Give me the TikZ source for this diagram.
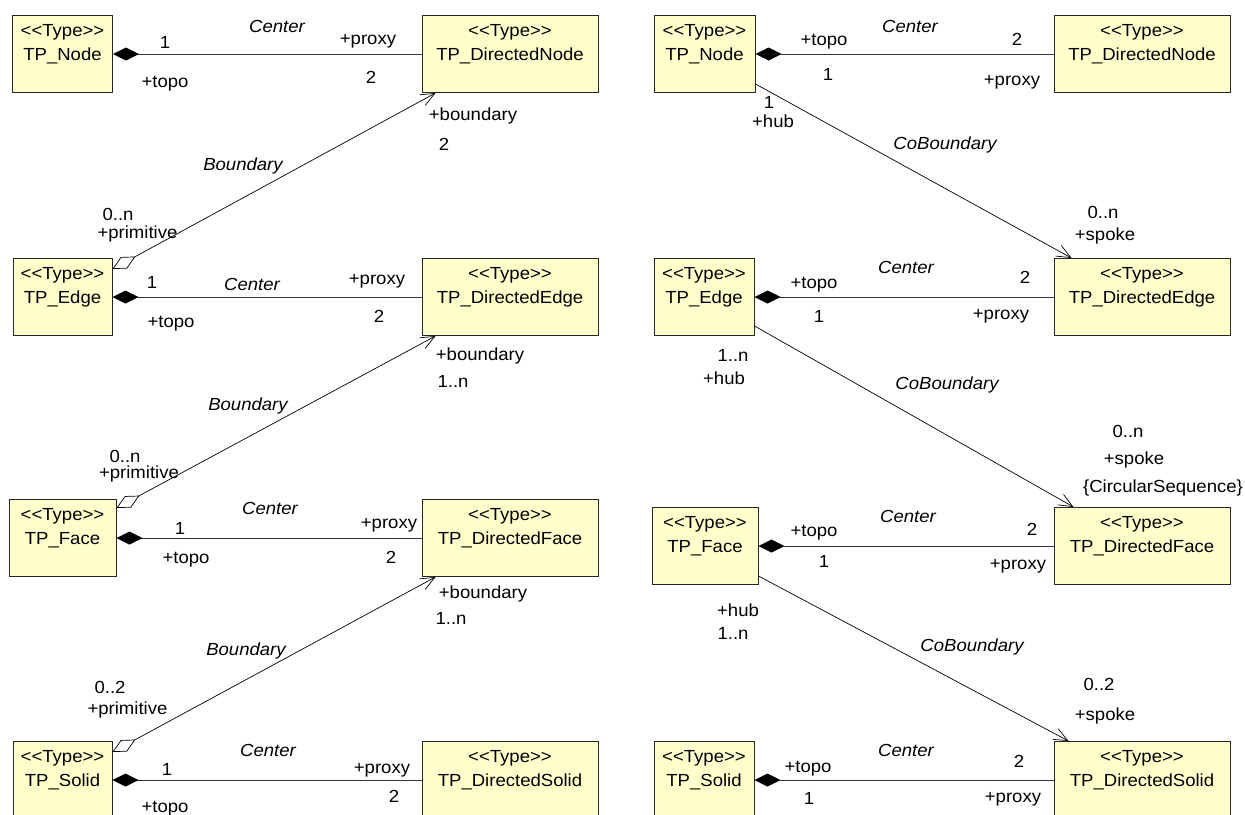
\documentclass[tikz,border=0pt]{standalone}
\usepackage{fontspec}
\setmainfont{Liberation Sans}[FakeStretch=1.06]
\usepackage{xcolor}
\usetikzlibrary{arrows.meta}
\definecolor{typefill}{RGB}{255,255,204}

\begin{document}
\begin{tikzpicture}[x=1pt, y=-1pt,
    font=\fontsize{17.5}{24}\selectfont,
    typebox/.style={draw=black!85, line width=1pt, fill=typefill, align=center,
        minimum height=77pt, inner sep=0pt},
    lbl/.style={inner sep=0pt, text height=10pt, text depth=0pt},
    assoc/.style={lbl, font=\fontsize{17.5}{24}\selectfont\itshape},
    centerlink/.style={draw=black!80, line width=0.9pt,
        {Diamond[length=26pt,width=13pt,color=black]}-},
    bndlink/.style={line width=0.7pt,
        {Diamond[open,length=26pt,width=13pt]}-{Straight Barb[length=14pt,width=12pt]}},
    cobndlink/.style={line width=0.7pt, -{Straight Barb[length=14pt,width=12pt]}}]
    \useasboundingbox (0,0) rectangle (1245,814);

    % Left column: types
    \node[typebox, minimum width=100pt] (nodeL)  at (62.5,54)  {<{}<Type>{}>\\TP\_Node\\~};
    \node[typebox, minimum width=99pt]  (edgeL)  at (62.5,297) {<{}<Type>{}>\\TP\_Edge\\~};
    \node[typebox, minimum width=107pt] (faceL)  at (62.5,538) {<{}<Type>{}>\\TP\_Face\\~};
    \node[typebox, minimum width=99pt]  (solidL) at (62.5,780) {<{}<Type>{}>\\TP\_Solid\\~};
    \node[typebox, minimum width=176pt] (dnodeL)  at (510,54)  {<{}<Type>{}>\\TP\_DirectedNode\\~};
    \node[typebox, minimum width=176pt] (dedgeL)  at (510,297) {<{}<Type>{}>\\TP\_DirectedEdge\\~};
    \node[typebox, minimum width=176pt] (dfaceL)  at (510,538) {<{}<Type>{}>\\TP\_DirectedFace\\~};
    \node[typebox, minimum width=176pt] (dsolidL) at (510,780) {<{}<Type>{}>\\TP\_DirectedSolid\\~};

    % Right column: types
    \node[typebox, minimum width=101pt] (nodeR)  at (704.5,54) {<{}<Type>{}>\\TP\_Node\\~};
    \node[typebox, minimum width=100pt] (edgeR)  at (704,297)  {<{}<Type>{}>\\TP\_Edge\\~};
    \node[typebox, minimum width=106pt] (faceR)  at (705,546)  {<{}<Type>{}>\\TP\_Face\\~};
    \node[typebox, minimum width=100pt] (solidR) at (704,780)  {<{}<Type>{}>\\TP\_Solid\\~};
    \node[typebox, minimum width=176pt] (dnodeR)  at (1142,54)  {<{}<Type>{}>\\TP\_DirectedNode\\~};
    \node[typebox, minimum width=176pt] (dedgeR)  at (1142,297) {<{}<Type>{}>\\TP\_DirectedEdge\\~};
    \node[typebox, minimum width=176pt] (dfaceR)  at (1142,546) {<{}<Type>{}>\\TP\_DirectedFace\\~};
    \node[typebox, minimum width=176pt] (dsolidR) at (1142,780) {<{}<Type>{}>\\TP\_DirectedSolid\\~};

    % Center compositions
    \draw[centerlink] (nodeL) -- (dnodeL);
    \draw[centerlink] (edgeL) -- (dedgeL);
    \draw[centerlink] (faceL) -- (dfaceL);
    \draw[centerlink] (solidL) -- (dsolidL);
    \draw[centerlink] (nodeR) -- (dnodeR);
    \draw[centerlink] (edgeR) -- (dedgeR);
    \draw[centerlink] (faceR) -- (dfaceR);
    \draw[centerlink] (solidR) -- (dsolidR);

    % Boundary aggregations
    \draw[bndlink] ([yshift=-11pt]edgeL.north east) -- ([xshift=14pt]dnodeL.south west);
    \draw[bndlink] ([yshift=-9pt]faceL.north east) -- ([xshift=14pt]dedgeL.south west);
    \draw[bndlink] ([yshift=-11pt]solidL.north east) -- ([xshift=14pt]dfaceL.south west);

    % CoBoundary associations
    \draw[cobndlink] ([yshift=9pt]nodeR.south east) -- ([xshift=18pt]dedgeR.north west);
    \draw[cobndlink] ([yshift=10pt]edgeR.south east) -- ([xshift=20pt]dfaceR.north west);
    \draw[cobndlink] ([yshift=9pt]faceR.south east) -- ([xshift=15pt]dsolidR.north west);

    % Labels, left column
    \node[assoc] (cenLN) at (277,27) {Center};
    \node[lbl] (oneLN) at (165,43) {1};
    \node[lbl] (topoLN) at (165,82) {+topo};
    \node[lbl] (proxyLN) at (368,39) {+proxy};
    \node[lbl] (twoLN) at (371,78) {2};
    \node[lbl] (bndN) at (473,115) {+boundary};
    \node[lbl] (bndmulN) at (444,145) {2};
    \node[assoc] (bndassocN) at (243,165) {Boundary};
    \node[lbl] (primmulN) at (118,215) {0..n};
    \node[lbl] (primN) at (137.5,233) {+primitive};

    \node[lbl] (oneLE) at (152,283) {1};
    \node[assoc] (cenLE) at (252,285) {Center};
    \node[lbl] (proxyLE) at (377,279) {+proxy};
    \node[lbl] (topoLE) at (171,322) {+topo};
    \node[lbl] (twoLE) at (379,317) {2};
    \node[lbl] (bndE) at (480,355) {+boundary};
    \node[lbl] (bndmulE) at (453,382) {1..n};
    \node[assoc] (bndassocE) at (248,405) {Boundary};
    \node[lbl] (primmulE) at (125,457) {0..n};
    \node[lbl] (primE) at (139,473) {+primitive};

    \node[assoc] (cenLF) at (270,509) {Center};
    \node[lbl] (proxyLF) at (389,523) {+proxy};
    \node[lbl] (oneLF) at (180,529) {1};
    \node[lbl] (topoLF) at (186,558) {+topo};
    \node[lbl] (twoLF) at (391,558) {2};
    \node[lbl] (bndF) at (483,593) {+boundary};
    \node[lbl] (bndmulF) at (451,619) {1..n};
    \node[assoc] (bndassocF) at (246,650) {Boundary};
    \node[lbl] (primmulF) at (110,688) {0..2};
    \node[lbl] (primF) at (127.5,709) {+primitive};

    \node[assoc] (cenLS) at (268,751) {Center};
    \node[lbl] (oneLS) at (167,770) {1};
    \node[lbl] (proxyLS) at (382,768) {+proxy};
    \node[lbl] (twoLS) at (394,797) {2};
    \node[lbl] (topoLS) at (165,807) {+topo};

    % Labels, right column
    \node[lbl] (topoRN) at (824,40) {+topo};
    \node[assoc] (cenRN) at (910,27) {Center};
    \node[lbl] (twoRN) at (1017,40) {2};
    \node[lbl] (oneRN) at (828,75) {1};
    \node[lbl] (proxyRN) at (1012,80) {+proxy};
    \node[lbl] (hubmulN) at (769,103) {1};
    \node[lbl] (hubN) at (773,122) {+hub};
    \node[assoc] (cobN) at (945,144) {CoBoundary};
    \node[lbl] (spokemulN) at (1103,213) {0..n};
    \node[lbl] (spokeN) at (1105,235) {+spoke};

    \node[assoc] (cenRE) at (906,268) {Center};
    \node[lbl] (topoRE) at (814,283) {+topo};
    \node[lbl] (twoRE) at (1025,278) {2};
    \node[lbl] (oneRE) at (819,317) {1};
    \node[lbl] (proxyRE) at (1001,314) {+proxy};
    \node[lbl] (hubmulE) at (733,356) {1..n};
    \node[lbl] (hubE) at (724,379) {+hub};
    \node[assoc] (cobE) at (947,384) {CoBoundary};
    \node[lbl] (spokemulE) at (1128,432) {0..n};
    \node[lbl] (spokeE) at (1134,459) {+spoke};
    \node[lbl] (circE) at (1163,487) {\{CircularSequence\}};

    \node[assoc] (cenRF) at (908,517) {Center};
    \node[lbl] (topoRF) at (814,531) {+topo};
    \node[lbl] (twoRF) at (1032,530) {2};
    \node[lbl] (oneRF) at (824,562) {1};
    \node[lbl] (proxyRF) at (1018,564) {+proxy};
    \node[lbl] (hubF) at (738,611) {+hub};
    \node[lbl] (hubmulF) at (733,634) {1..n};
    \node[assoc] (cobF) at (972,646) {CoBoundary};
    \node[lbl] (spokemulF) at (1099,685) {0..2};
    \node[lbl] (spokeF) at (1105,715) {+spoke};

    \node[assoc] (cenRS) at (906,751) {Center};
    \node[lbl] (topoRS) at (808,767) {+topo};
    \node[lbl] (twoRS) at (1019,762) {2};
    \node[lbl] (oneRS) at (809,799) {1};
    \node[lbl] (proxyRS) at (1013,797) {+proxy};
\end{tikzpicture}
\end{document}
